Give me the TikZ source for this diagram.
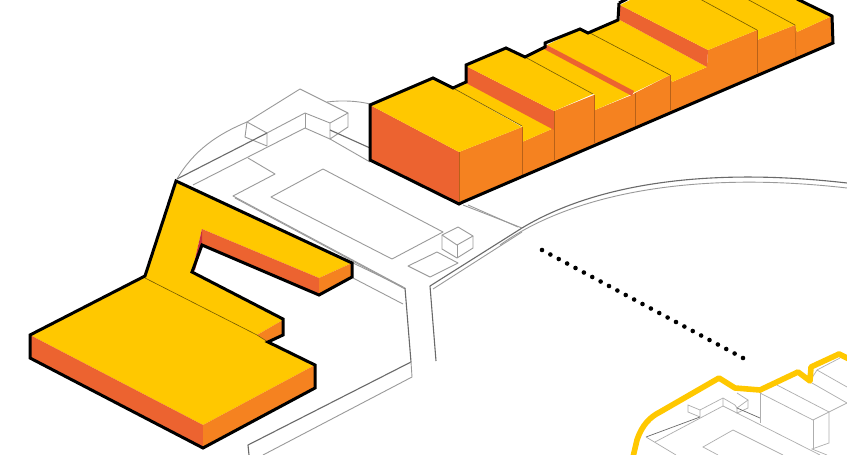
\documentclass[tikz,border=0pt]{standalone}
\usepackage{xcolor}
\usepackage{tikz}
\usetikzlibrary{calc}
\definecolor{roofyellow}{HTML}{FFC800}
\definecolor{wallorange}{HTML}{F58220}
\definecolor{walldark}{HTML}{EC6330}
\definecolor{wallred}{HTML}{C8303A}
\definecolor{plangray}{HTML}{9A9A9A}
\definecolor{roadgray}{HTML}{6A6A6A}

\begin{document}
\begin{tikzpicture}[
  x=1pt, y=-1pt,
  roof/.style={fill=roofyellow},
  front/.style={fill=wallorange},
  side/.style={fill=walldark},
  outline/.style={draw=black, line width=3pt, line join=miter},
  seam/.style={draw=black!55!roofyellow, line width=0.6pt},
  edge/.style={draw=black!25!wallorange, line width=0.5pt},
  plan/.style={draw=plangray, line width=0.9pt, line join=round},
  road/.style={draw=roadgray, line width=1.1pt, line join=round},
  thin/.style={draw=plangray!80, line width=0.7pt},
  dotline/.style={fill=black},
]
\clip (0,0) rectangle (847,455);
\fill[white] (0,0) rectangle (847,455);

% site plan
\draw[plan] (177,179) .. controls (194,150) and (218,134) .. (247,122);
\draw[plan] (327,102) .. controls (342,100) and (358,101) .. (370,104);
\draw[plan] (247,122) -- (300,89) -- (348,113) -- (330,123) -- (305,113) -- (267,133) -- cycle;
\draw[plan] (247,122) -- (245,137) -- (267,146) -- (267,133);
\draw[plan] (305,113) -- (305,128);
\draw[plan] (348,113) -- (348,127) -- (330,139) -- (330,123);
\draw[plan] (305,128) -- (330,139);
\draw[plan] (305,128) -- (193,185);
\draw[road] (267,133) -- (177,179);
\draw[road] (330,130) -- (370,148);
\draw[plan] (330,139) -- (370,162);
\draw[plan] (248,158) -- (275,174) -- (233,196) -- (403,287);
\draw[plan] (235,198) -- (405,289);
\draw[plan] (353,263) -- (405,288);
\draw[plan] (353,278) -- (403,304);
\draw[plan] (323,169) -- (443,232) -- (392,259) -- (271,197) -- cycle;
\draw[plan] (442,235) -- (458,227) -- (473,236) -- (457,245) -- cycle;
\draw[plan] (442,235) -- (442,249) -- (457,258) -- (473,248) -- (473,236);
\draw[plan] (457,245) -- (457,258);
\draw[plan] (408,266) -- (437,252) -- (458,263) -- (430,277) -- cycle;

% roads
\draw[road] (405,288) -- (411,362) -- (248,445) -- (249,455);
\draw[plan] (411,362) -- (412,377) -- (263,455);
\draw[road] (436,361) -- (430,286) -- (522,228);
\draw[plan] (433,289) -- (522,232);
\draw[plan] (463,205) -- (522,228);
\draw[plan] (468,205) -- (518,227);
\draw[road] (522,228) .. controls (585,190) and (690,165) .. (847,183);
\draw[plan] (500,245) .. controls (570,195) and (690,170) .. (847,188);

% left building
\fill[roof] (176,181) -- (352,263) -- (319,278) -- (202,229) -- (192,272) -- (283,320) -- (257,335) -- (268,342) -- (315,365) -- (203,425) -- (30,335) -- (145,276) -- cycle;
\fill[side] (30,335) -- (203,425) -- (203,448) -- (30,358) -- cycle;
\fill[front] (203,425) -- (315,365) -- (315,388) -- (203,448) -- cycle;
\fill[side] (202,229) -- (319,278) -- (319,295) -- (202,245) -- cycle;
\fill[wallred] (202,229) -- (192,272) -- (195,270) -- (202,245) -- cycle;
\fill[front] (319,278) -- (352,263) -- (352,277) -- (319,295) -- cycle;
\fill[front] (283,320) -- (257,335) -- (268,342) -- (283,335) -- cycle;
\draw[seam] (145,278) -- (257,335) -- (268,342);
\draw[outline] (176,181) -- (352,263) -- (352,277) -- (319,295) -- (202,245) -- (192,272) -- (283,319) -- (283,335) -- (268,342) -- (315,365) -- (315,388) -- (203,448) -- (30,358) -- (30,335) -- (145,276) -- cycle;

% upper building
\fill[front] (459,152) -- (522,127) -- (522,142) -- (554,128) -- (554,111) -- (594,95) -- (595,110) -- (632,95) -- (635,93) -- (670,75) -- (672,82) -- (707,67) -- (708,50) -- (757,30) -- (757,40) -- (795,25) -- (797,32) -- (832,16) -- (833,43) -- (463,202) -- (459,204) -- cycle;
\fill[side] (370,105) -- (459,152) -- (459,204) -- (370,160) -- cycle;
\fill[roof] (370,105) -- (433,78) -- (453,88) -- (522,127) -- (459,152) -- cycle;
\fill[roof] (453,88) -- (466,82) -- (554,128) -- (522,142) -- (522,126) -- cycle;
\fill[side] (466,66) -- (554,111) -- (554,130) -- (466,83) -- cycle;
\fill[roof] (466,66) -- (506,48) -- (525,57) -- (593,94) -- (554,111) -- cycle;
\fill[roof] (525,57) -- (545,47) -- (632,94) -- (595,110) -- (595,95) -- cycle;
\fill[roof] (547,45) -- (580,29) -- (588,33) -- (620,20) -- (707,67) -- (672,82) -- (670,75) -- (633,93) -- cycle;
\fill[side] (620,5) -- (708,50) -- (707,67) -- (620,20) -- cycle;
\fill[side] (545,44) -- (634,91) -- (632,96) -- (544,49) -- cycle;
\fill[roof] (620,5) -- (632,-1) -- (797,-1) -- (832,16) -- (797,32) -- (795,25) -- (757,40) -- (757,30) -- (708,50) -- cycle;
\draw[edge] (459,152) -- (459,204);
\draw[edge] (522,127) -- (522,176);
\draw[edge] (554,111) -- (554,160);
\draw[edge] (594,95) -- (594,143);
\draw[edge] (635,93) -- (635,126);
\draw[edge] (670,75) -- (670,110);
\draw[edge] (757,30) -- (757,73);
\draw[edge] (795,25) -- (796,57);
\draw[seam] (453,88) -- (522,126);
\draw[seam] (525,57) -- (593,94);
\draw[seam] (590,33) -- (670,75);
\draw[seam] (700,-1) -- (757,30);
\draw[seam] (747,-1) -- (795,25);
\draw[outline] (619,3) -- (627,-1);
\draw[outline] (797,-1) -- (832,16) -- (833,43) -- (463,202) -- (459,204) -- (370,160) -- (370,105) -- (433,78) -- (453,88) -- (466,82) -- (466,65) -- (506,48) -- (525,57) -- (545,47) -- (545,43) -- (580,29) -- (588,33) -- (618,20) -- (619,3);

% dotted line of sight
\foreach \i in {0,...,24}
  \fill[dotline] ({542+\i*8.375},{250+\i*4.5}) circle (2.3);

% small key view
\draw[thin] (688,405) -- (700,410) -- (700,417) -- (688,412) -- cycle;
\draw[thin] (700,410) -- (723,398) -- (735,405);
\draw[thin] (723,398) -- (723,406) -- (655,442);
\draw[thin] (723,406) -- (737,413) -- (820,455);
\draw[thin] (737,393) -- (748,400) -- (737,408) -- (735,405);
\draw[thin] (748,400) -- (748,408) -- (737,413) -- (737,408);
\draw[road, line width=0.7pt] (700,417) -- (646,437);
\draw[road, line width=0.7pt] (737,408) -- (760,418);
\draw[thin] (760,390) -- (760,423);
\draw[thin] (760,393) -- (813,420) -- (847,403);
\draw[thin] (813,420) -- (813,450);
\draw[thin] (829,412) -- (829,443) -- (812,449) -- (827,455);
\draw[thin] (777,385) -- (829,412);
\draw[thin] (812,383) -- (847,403);
\draw[thin] (817,370) -- (847,387);
\draw[thin] (817,370) -- (840,358);
\draw[thin] (810,381) -- (817,370);
\draw[thin] (646,437) -- (676,455);
\draw[thin] (718,455) -- (703,447) -- (733,430) -- (783,455);
\draw[roofyellow, line width=5.6pt, line join=round] (633,457) -- (637,440) .. controls (642,425) and (650,417) .. (660,412) -- (719,378) -- (735,388) -- (760,390) -- (798,372) -- (810,381) -- (811,367) -- (839,354) -- (849,359);
\end{tikzpicture}
\end{document}
